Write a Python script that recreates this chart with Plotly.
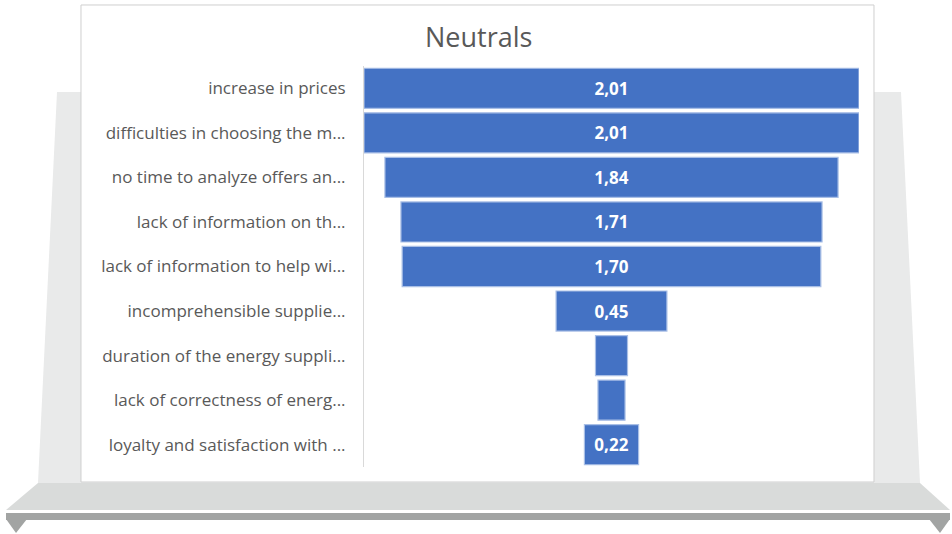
import plotly.graph_objects as go

categories = [
    "increase in prices",
    "difficulties in choosing the m...",
    "no time to analyze offers an...",
    "lack of information on th...",
    "lack of information to help wi...",
    "incomprehensible supplie...",
    "duration of the energy suppli...",
    "lack of correctness of energ...",
    "loyalty and satisfaction with ...",
]
values = [2.01, 2.01, 1.84, 1.71, 1.70, 0.45, 0.13, 0.11, 0.22]
title_text = "Neutrals"

labels = [f"{v:.2f}".replace(".", ",") if v >= 0.2 else "" for v in values]

W, H = 952, 534
L, R, T, B = 364, 859, 66, 467  # plot area in pixels
FONT = "Open Sans"


def px(x):
    return (x - L) / (R - L)


def py(y):
    return (B - y) / (B - T)


def path(points):
    s = "M " + " L ".join(f"{px(x):.5f},{py(y):.5f}" for x, y in points) + " Z"
    return s


shapes = [
    # gray back panel
    dict(type="path", xref="paper", yref="paper", layer="below",
         path=path([(57, 92), (901, 92), (920, 483), (38, 483)]),
         fillcolor="#e9eaea", line=dict(width=0)),
    # platform
    dict(type="path", xref="paper", yref="paper", layer="below",
         path=path([(38, 483), (920, 483), (950, 510), (6, 510)]),
         fillcolor="#d9dbda", line=dict(width=0)),
    # dark bar
    dict(type="path", xref="paper", yref="paper", layer="below",
         path=path([(6, 513), (950, 513), (950, 520), (6, 520)]),
         fillcolor="#a2a4a3", line=dict(width=0)),
    # triangles
    dict(type="path", xref="paper", yref="paper", layer="below",
         path=path([(6, 519), (27, 519), (16, 533)]),
         fillcolor="#a2a4a3", line=dict(width=0)),
    dict(type="path", xref="paper", yref="paper", layer="below",
         path=path([(929, 519), (950, 519), (940, 533)]),
         fillcolor="#a2a4a3", line=dict(width=0)),
    # chart area
    dict(type="path", xref="paper", yref="paper", layer="below",
         path=path([(81, 5), (874, 5), (874, 482), (81, 482)]),
         fillcolor="#ffffff", line=dict(color="#cfcfcf", width=1)),
]

fig = go.Figure(go.Funnel(
    y=categories,
    x=values,
    text=labels,
    textinfo="text",
    textposition="inside",
    insidetextanchor="middle",
    textfont=dict(family=FONT, size=17, color="white", weight="bold"),
    marker=dict(color="#4472c4", line=dict(color="#a9bfe6", width=1.2)),
    connector=dict(visible=False),
    hoverinfo="skip",
    constraintext="none",
))

fig.update_layout(
    width=W, height=H,
    margin=dict(l=L, r=W - R, t=T, b=H - B, pad=0),
    paper_bgcolor="white",
    plot_bgcolor="rgba(0,0,0,0)",
    showlegend=False,
    funnelgap=0.1,
    shapes=shapes,
    font=dict(family=FONT, color="#595959"),
    annotations=[dict(
        text=title_text, xref="paper", yref="paper",
        x=px(478), y=py(37), xanchor="center", yanchor="middle",
        showarrow=False, font=dict(family=FONT, size=27, color="#595959"),
    )],
)
fig.update_xaxes(visible=False, range=[-1.005, 1.005], fixedrange=True)
fig.update_yaxes(
    categoryorder="array", categoryarray=categories, autorange="reversed",
    showline=True, linecolor="#d9d9d9", linewidth=1,
    ticks="", ticklabelstandoff=14,
    tickfont=dict(family=FONT, size=17, color="#595959"),
    showgrid=False, zeroline=False,
)

fig.write_html("out.html")
